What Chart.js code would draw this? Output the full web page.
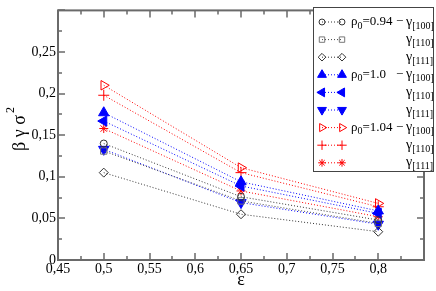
<!DOCTYPE html>
<html>
<head>
<meta charset="utf-8">
<script src="https://cdn.jsdelivr.net/npm/chart.js@4.4.1/dist/chart.umd.min.js"></script>
<style>
  html, body { margin: 0; padding: 0; background: #fff; }
  #wrap { width: 436px; height: 291px; }
</style>
</head>
<body>
<div id="wrap"><canvas id="chart" width="436" height="291"></canvas></div>
<script>
// strain values on the x axis
const epsilon = [0.5, 0.65, 0.8];

// rho0 = 0.94
const g100_094 = [0.140, 0.076, 0.048];
const g110_094 = [0.131, 0.071, 0.044];
const g111_094 = [0.105, 0.055, 0.034];
// rho0 = 1.0
const g100_100 = [0.177, 0.094, 0.059];
const g110_100 = [0.167, 0.089, 0.056];
const g111_100 = [0.133, 0.069, 0.043];
// rho0 = 1.04
const g100_104 = [0.210, 0.111, 0.068];
const g110_104 = [0.198, 0.105, 0.064];
const g111_104 = [0.158, 0.083, 0.052];

const rhoLabels = ['=0.94', '=1.0', '=1.04'];
const gammaLabels = ['[100]', '[110]', '[111]'];

const xTicks = [0.45, 0.5, 0.55, 0.6, 0.65, 0.7, 0.75, 0.8];
const yTicks = [0, 0.05, 0.1, 0.15, 0.2, 0.25];

const SERIF = '"Liberation Serif", "Times New Roman", Times, serif';

function series(values, color, style, opts) {
  return Object.assign({
    data: values.map((v, i) => ({ x: epsilon[i], y: v })),
    borderColor: color,
    backgroundColor: color,
    borderWidth: 1,
    borderDash: [1, 2],
    pointStyle: style,
    pointRadius: 4,
    pointBorderWidth: 1,
    pointBorderColor: color,
    pointBackgroundColor: 'rgba(0,0,0,0)',
    pointRotation: 0,
    fill: false
  }, opts || {});
}

const datasets = [
  series(g100_094, '#333', 'circle', { pointRadius: 3.5 }),
  series(g110_094, '#777', 'rect', { pointRadius: 4.5, borderColor: '#444' }),
  series(g111_094, '#333', 'rectRot', { pointRadius: 4.5 }),
  series(g100_100, '#0000ff', 'triangle', { pointRadius: 6, pointBackgroundColor: '#0000ff' }),
  series(g110_100, '#0000ff', 'triangle', { pointRadius: 6, pointBackgroundColor: '#0000ff', pointRotation: -90 }),
  series(g111_100, '#0000ff', 'triangle', { pointRadius: 6, pointBackgroundColor: '#0000ff', pointRotation: 180 }),
  series(g100_104, '#ff0000', 'triangle', { pointRadius: 5.5, pointRotation: 90 }),
  series(g110_104, '#ff0000', 'cross', { pointRadius: 5.5 }),
  series(g111_104, '#ff0000', 'star', { pointRadius: 4.5 })
];

function fmt(v) {
  return String(+v.toFixed(2)).replace('.', ',');
}

const FRAME = '#6a6a6a';

const framePlugin = {
  id: 'frame',
  afterDatasetsDraw(chart) {
    const ctx = chart.ctx;
    const a = chart.chartArea;
    const xs = chart.scales.x, ys = chart.scales.y;
    ctx.save();
    ctx.strokeStyle = FRAME;
    // minor + major ticks, inward on all sides
    ctx.lineWidth = 1.5;
    for (let i = 0; i <= 16; i++) {
      const v = 0.45 + i * 0.025;
      const px = Math.round(xs.getPixelForValue(v));
      const len = i % 2 === 0 ? 7 : 4;
      ctx.beginPath();
      ctx.moveTo(px, a.bottom); ctx.lineTo(px, a.bottom - len);
      ctx.moveTo(px, a.top); ctx.lineTo(px, a.top + len);
      ctx.stroke();
    }
    for (let i = 0; i <= 12; i++) {
      const v = i * 0.025;
      const py = Math.round(ys.getPixelForValue(v));
      const len = i % 2 === 0 ? 7 : 4;
      ctx.beginPath();
      ctx.moveTo(a.left, py); ctx.lineTo(a.left + len, py);
      ctx.moveTo(a.right, py); ctx.lineTo(a.right - len, py);
      ctx.stroke();
    }
    ctx.lineWidth = 2;
    ctx.strokeRect(a.left, a.top, a.right - a.left, a.bottom - a.top);

    // y axis title: beta gamma sigma^2
    ctx.fillStyle = '#000';
    ctx.translate(25, 130);
    ctx.rotate(-Math.PI / 2);
    ctx.font = '18px ' + SERIF;
    ctx.textBaseline = 'alphabetic';
    ctx.textAlign = 'left';
    const t = 'β γ σ';
    const w = ctx.measureText(t).width;
    ctx.fillText(t, -w / 2 - 3, 0);
    ctx.font = '12px ' + SERIF;
    ctx.fillText('2', w / 2 - 1, -11);
    ctx.restore();

    drawLegend(chart);
  }
};

function drawSub(ctx, main, sub, x, y, size) {
  ctx.font = size + 'px ' + SERIF;
  ctx.fillText(main, x, y);
  const w = ctx.measureText(main).width;
  ctx.font = '10px ' + SERIF;
  ctx.fillText(sub, x + w, y + 4);
  return x + w + ctx.measureText(sub).width;
}

function drawLegend(chart) {
  const ctx = chart.ctx;
  ctx.save();
  const bx = 313, by = 7, bw = 120, bh = 164;
  ctx.fillStyle = '#fff';
  ctx.fillRect(bx, by, bw, bh);
  ctx.strokeStyle = '#444';
  ctx.lineWidth = 1;
  ctx.strokeRect(bx + 0.5, by + 0.5, bw, bh);
  chart.data.datasets.forEach((ds, i) => {
    const y = 22 + i * 17.6;
    ctx.strokeStyle = ds.borderColor;
    ctx.lineWidth = 1;
    ctx.setLineDash([1, 2]);
    ctx.beginPath();
    ctx.moveTo(322, y); ctx.lineTo(342, y);
    ctx.stroke();
    ctx.setLineDash([]);
    ctx.strokeStyle = ds.pointBorderColor;
    ctx.fillStyle = ds.pointBackgroundColor;
    const opt = {
      pointStyle: ds.pointStyle,
      rotation: ds.pointRotation,
      radius: ds.pointRadius * 0.85,
      borderWidth: 1
    };
    Chart.helpers.drawPoint(ctx, opt, 322, y);
    Chart.helpers.drawPoint(ctx, opt, 342, y);

    ctx.fillStyle = '#000';
    ctx.textBaseline = 'middle';
    ctx.textAlign = 'left';
    if (i % 3 === 0) {
      const nx = drawSub(ctx, 'ρ', '0', 351, y, 13);
      ctx.font = '13px ' + SERIF;
      ctx.fillText(rhoLabels[i / 3], nx, y);
      ctx.fillText('−', 396, y);
    }
    drawSub(ctx, 'γ', gammaLabels[i % 3], 406, y, 14);
  });
  ctx.restore();
}

function build() {
  new Chart(document.getElementById('chart'), {
    type: 'line',
    data: { datasets: datasets },
    plugins: [framePlugin],
    options: {
      responsive: false,
      animation: false,
      layout: { padding: { top: 1, right: 12, left: 0, bottom: 0 } },
      plugins: { legend: { display: false }, tooltip: { enabled: false } },
      scales: {
        x: {
          type: 'linear',
          min: 0.45, max: 0.85,
          afterBuildTicks: s => { s.ticks = xTicks.concat([0.85]).map(v => ({ value: v })); },
          afterFit: s => { s.height = 31; },
          grid: { display: false, drawTicks: false },
          border: { display: false },
          ticks: {
            padding: 1,
            color: '#000',
            font: { family: SERIF, size: 14 },
            maxRotation: 0,
            autoSkip: false,
            callback: v => (v > 0.84 ? '' : fmt(v))
          },
          title: {
            display: true, text: 'ε', color: '#000',
            font: { family: SERIF, size: 18 },
            padding: { top: -4, bottom: 0 }
          }
        },
        y: {
          min: 0, max: 0.3,
          afterBuildTicks: s => { s.ticks = yTicks.concat([0.3]).map(v => ({ value: v })); },
          afterFit: s => { s.width = 58; },
          grid: { display: false, drawTicks: false },
          border: { display: false },
          ticks: {
            padding: 2,
            color: '#000',
            font: { family: SERIF, size: 14 },
            autoSkip: false,
            callback: v => (v > 0.29 ? '' : fmt(v))
          }
        }
      }
    }
  });
}

if (document.fonts && document.fonts.load) {
  document.fonts.load('14px "Liberation Serif"').then(build, build);
} else {
  build();
}
</script>
</body>
</html>
